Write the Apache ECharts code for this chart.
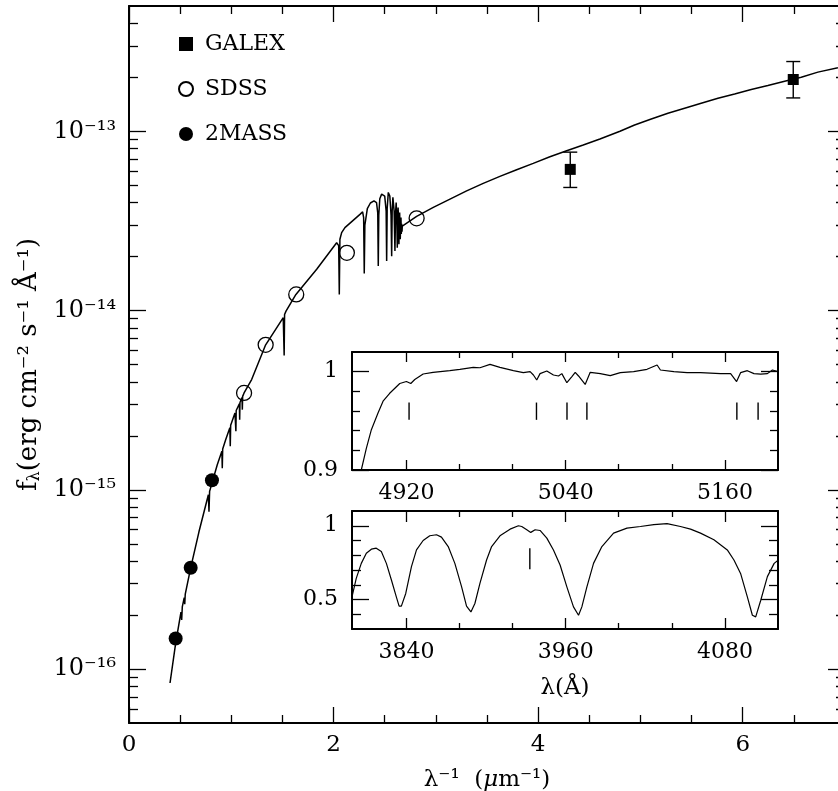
<!DOCTYPE html>
<html>
<head>
<meta charset="utf-8">
<script src="https://cdn.jsdelivr.net/npm/echarts@6/dist/echarts.min.js"></script>
<style>
  html, body { margin: 0; padding: 0; background: #fff; }
  #chart { width: 838px; height: 791px; }
</style>
</head>
<body>
<div id="chart"></div>
<script>
// model spectrum (x = 1/lambda in um^-1, f in erg cm^-2 s^-1 A^-1)
var modelX = [0.401, 0.456, 0.508, 0.515, 0.521, 0.540, 0.545, 0.550, 0.603, 0.684,
  0.776, 0.782, 0.788, 0.863, 0.908, 0.912, 0.916, 0.945, 0.986, 0.990, 0.994,
  1.036, 1.042, 1.045, 1.048, 1.079, 1.082, 1.085, 1.105, 1.108, 1.111, 1.125,
  1.199, 1.336, 1.508, 1.514, 1.517, 1.521, 1.535, 1.632, 1.835, 2.030, 2.050,
  2.056, 2.062, 2.079, 2.111, 2.258, 2.284, 2.294, 2.300, 2.306, 2.330, 2.360,
  2.395, 2.420, 2.432, 2.437, 2.442, 2.452, 2.470, 2.500, 2.514, 2.519, 2.524,
  2.535, 2.550, 2.562, 2.568, 2.573, 2.580, 2.592, 2.600, 2.606, 2.612, 2.618,
  2.623, 2.627, 2.631, 2.636, 2.639, 2.642, 2.646, 2.649, 2.652, 2.655, 2.659,
  2.662, 2.666, 2.669, 2.672, 2.688, 2.812, 2.975, 3.138, 3.301, 3.463, 3.626,
  3.790, 3.952, 4.115, 4.279, 4.441, 4.604, 4.800, 4.943, 5.106, 5.269, 5.432,
  5.594, 5.758, 5.921, 6.083, 6.246, 6.410, 6.572, 6.735, 6.931, 7.000];
var modelF = [8.36e-17, 1.39e-16, 2.08e-16, 1.88e-16, 2.22e-16, 2.50e-16, 2.30e-16, 2.62e-16, 3.67e-16, 5.83e-16,
  9.38e-16, 7.55e-16, 9.80e-16, 1.38e-15, 1.64e-15, 1.32e-15, 1.69e-15, 1.90e-15, 2.22e-15, 1.75e-15, 2.29e-15,
  2.68e-15, 2.73e-15, 2.12e-15, 2.77e-15, 3.02e-15, 2.46e-15, 3.07e-15, 3.27e-15, 2.80e-15, 3.32e-15, 3.47e-15,
  4.12e-15, 6.44e-15, 9.12e-15, 8.90e-15, 5.61e-15, 9.50e-15, 9.93e-15, 1.23e-14, 1.70e-14, 2.39e-14, 2.30e-14,
  1.23e-14, 2.50e-14, 2.72e-14, 2.90e-14, 3.44e-14, 3.55e-14, 3.30e-14, 1.61e-14, 3.00e-14, 3.70e-14, 3.98e-14,
  4.09e-14, 4.00e-14, 3.50e-14, 1.77e-14, 3.40e-14, 4.20e-14, 4.46e-14, 4.35e-14, 3.60e-14, 1.89e-14, 3.70e-14,
  4.56e-14, 4.35e-14, 3.40e-14, 2.01e-14, 3.60e-14, 4.28e-14, 3.60e-14, 2.15e-14, 3.50e-14, 4.01e-14, 3.30e-14,
  2.24e-14, 3.30e-14, 3.76e-14, 3.00e-14, 2.34e-14, 3.10e-14, 3.52e-14, 3.00e-14, 2.50e-14, 2.90e-14, 3.30e-14,
  2.67e-14, 3.05e-14, 2.75e-14, 2.96e-14, 2.99e-14, 3.35e-14, 3.76e-14, 4.18e-14, 4.65e-14, 5.12e-14, 5.60e-14,
  6.10e-14, 6.62e-14, 7.21e-14, 7.79e-14, 8.38e-14, 9.06e-14, 1.00e-13, 1.084e-13, 1.172e-13, 1.261e-13, 1.345e-13,
  1.434e-13, 1.530e-13, 1.616e-13, 1.709e-13, 1.799e-13, 1.904e-13, 2.004e-13, 2.138e-13, 2.259e-13, 2.31e-13];

// photometry
var galexX = [4.314, 6.494];
var galexF = [6.13e-14, 1.945e-13];
var galexLo = [4.86e-14, 1.535e-13];
var galexHi = [7.65e-14, 2.45e-13];
var sdssX = [1.125, 1.336, 1.635, 2.130, 2.812];
var sdssF = [3.47e-15, 6.44e-15, 1.23e-14, 2.10e-14, 3.27e-14];
var tmassX = [0.456, 0.603, 0.811];
var tmassF = [1.48e-16, 3.67e-16, 1.13e-15];

// inset 1: normalised spectrum 4880-5200 A
var topWave = [4884.5, 4886.0, 4889.8, 4893.6, 4898.6, 4902.4, 4907.4, 4915.0, 4920.0, 4923.3, 4926.3,
  4932.6, 4940.1, 4952.7, 4960.3, 4970.4, 4975.4, 4983.0, 4990.5, 5000.6, 5008.1, 5013.2, 5015.7,
  5018.2, 5020.7, 5025.8, 5030.8, 5034.6, 5037.1, 5040.9, 5044.7, 5047.2, 5049.7, 5054.7, 5058.5,
  5066.1, 5073.6, 5081.2, 5091.2, 5101.3, 5108.9, 5111.4, 5121.5, 5131.5, 5141.6, 5156.7, 5164.3,
  5168.8, 5171.8, 5176.9, 5181.9, 5187.0, 5192.0, 5195.8, 5200.0];
var topFlux = [0.885, 0.900, 0.922, 0.941, 0.958, 0.970, 0.978, 0.988, 0.990, 0.988, 0.992,
  0.9976, 0.9993, 1.001, 1.0024, 1.0044, 1.004, 1.0074, 1.0044, 1.001, 0.999, 1.000, 0.9966,
  0.9915, 0.998, 1.0007, 0.9966, 0.9956, 0.998, 0.9888, 0.995, 0.9993, 0.9956, 0.987, 0.9993,
  0.998, 0.996, 0.999, 1.000, 1.0024, 1.0068, 1.0017, 1.000, 0.999, 0.999, 0.998, 0.998,
  0.9899, 0.999, 1.001, 0.998, 0.9976, 0.998, 1.0017, 1.000];
var topMarks = [4922, 5018, 5041, 5056, 5169, 5185];
var topMarkLo = 0.951, topMarkHi = 0.9686;

// inset 2: normalised spectrum 3800-4120 A
var botWave = [3799.0, 3802.2, 3806.0, 3809.8, 3813.6, 3817.3, 3821.1, 3824.9, 3828.7, 3832.4, 3834.5,
  3836.2, 3839.5, 3843.8, 3847.6, 3852.6, 3857.6, 3862.7, 3866.4, 3871.5, 3876.5, 3881.6, 3885.3,
  3888.6, 3891.6, 3895.4, 3900.4, 3904.2, 3910.5, 3918.1, 3924.4, 3926.9, 3930.7, 3933.7, 3937.0,
  3940.7, 3945.8, 3950.8, 3955.8, 3960.9, 3965.9, 3969.7, 3972.2, 3976.0, 3981.0, 3987.3, 3996.1,
  4006.2, 4016.3, 4026.4, 4036.4, 4046.5, 4054.1, 4061.6, 4071.7, 4081.8, 4086.8, 4091.8, 4096.9,
  4100.7, 4103.2, 4107.0, 4112.0, 4117.1, 4120.3];
var botFlux = [0.518, 0.643, 0.745, 0.814, 0.841, 0.848, 0.825, 0.745, 0.632, 0.518, 0.455,
  0.455, 0.541, 0.723, 0.836, 0.900, 0.932, 0.939, 0.923, 0.859, 0.745, 0.586, 0.455,
  0.416, 0.473, 0.609, 0.768, 0.859, 0.932, 0.977, 1.000, 0.995, 0.973, 0.955, 0.973,
  0.968, 0.916, 0.836, 0.734, 0.586, 0.450, 0.393, 0.450, 0.586, 0.745, 0.859, 0.950,
  0.984, 0.995, 1.007, 1.014, 0.995, 0.977, 0.950, 0.905, 0.836, 0.768, 0.677, 0.518,
  0.393, 0.382, 0.495, 0.655, 0.745, 0.768];
var botMarks = [3933];
var botMarkLo = 0.705, botMarkHi = 0.848;

// ticks
var mainXMajor = [0, 2, 4, 6];
var mainXMinor = [0.5, 1, 1.5, 2.5, 3, 3.5, 4.5, 5, 5.5, 6.5];
var mainYMajor = [1e-16, 1e-15, 1e-14, 1e-13];
var mainYMinor = [6e-17, 7e-17, 8e-17, 9e-17, 2e-16, 3e-16, 4e-16, 5e-16, 6e-16, 7e-16, 8e-16, 9e-16,
  2e-15, 3e-15, 4e-15, 5e-15, 6e-15, 7e-15, 8e-15, 9e-15, 2e-14, 3e-14, 4e-14, 5e-14, 6e-14, 7e-14,
  8e-14, 9e-14, 2e-13, 3e-13, 4e-13];
var topXMajor = [4920, 5040, 5160];
var topXMinor = [4960, 5000, 5080, 5120];
var topYMajor = [0.9, 1];
var topYMinor = [0.92, 0.94, 0.96, 0.98];
var botXMajor = [3840, 3960, 4080];
var botXMinor = [3880, 3920, 4000, 4040];
var botYMajor = [0.5, 1];
var botYMinor = [0.4, 0.6, 0.7, 0.8, 0.9];

var FONT = 'DejaVu Serif';
var SUP = {'-': '\u207B', '0': '\u2070', '1': '\u00B9', '2': '\u00B2', '3': '\u00B3', '4': '\u2074',
  '5': '\u2075', '6': '\u2076', '7': '\u2077', '8': '\u2078', '9': '\u2079'};
function sup(n) {
  return String(n).split('').map(function (c) { return SUP[c]; }).join('');
}
function pairs(xs, ys) {
  return xs.map(function (x, i) { return [x, ys[i]]; });
}

var xAxes = [], yAxes = [];
// one box side = main axis (line, long ticks, labels) + overlay axis (short ticks)
function addAxes(list, dim, grid, o) {
  var first = list.length;
  (dim === 'x' ? ['bottom', 'top'] : ['left', 'right']).forEach(function (pos, side) {
    [[o.major, o.majorLen], [o.minor, o.minorLen]].forEach(function (t, k) {
      var main = side === 0 && k === 0;
      var ax = {
        type: o.type || 'value', gridIndex: grid, position: pos, min: o.min, max: o.max,
        axisLine: {show: k === 0, onZero: false, lineStyle: {color: '#000', width: 2}},
        splitLine: {show: false},
        axisTick: {show: true, inside: true, length: t[1], customValues: t[0],
          lineStyle: {color: '#000', width: 1.3}},
        axisLabel: main ? {show: true, customValues: o.labels, formatter: o.fmt, margin: o.margin,
          color: '#000', fontFamily: FONT, fontSize: o.fontSize} : {show: false}
      };
      if (main && o.name) {
        ax.name = o.name;
        ax.nameLocation = 'middle';
        ax.nameGap = o.nameGap;
        ax.nameTextStyle = o.nameTextStyle;
      }
      list.push(ax);
    });
  });
  return first;
}

var plain = function (v) { return String(v); };
var mx = addAxes(xAxes, 'x', 0, {min: 0, max: 7, major: mainXMajor, minor: mainXMinor, majorLen: 16, minorLen: 8,
  labels: mainXMajor, fmt: plain, margin: 11, fontSize: 23,
  name: '{a|\u03BB' + sup(-1) + '  (}{i|\u03BC}{a|m' + sup(-1) + ')}', nameGap: 46,
  nameTextStyle: {rich: {a: {fontFamily: FONT, fontSize: 23, color: '#000'},
    i: {fontFamily: FONT, fontSize: 23, fontStyle: 'italic', color: '#000'}}}});
var my = addAxes(yAxes, 'y', 0, {type: 'log', min: 5e-17, max: 5e-13, major: mainYMajor, minor: mainYMinor,
  majorLen: 17, minorLen: 9, labels: mainYMajor, margin: 13, fontSize: 24,
  fmt: function (v) { return '10' + sup(Math.round(Math.log10(v))); },
  name: '{a|f}{b|\u03BB}{a|(erg cm' + sup(-2) + ' s' + sup(-1) + ' \u00C5' + sup(-1) + ')}', nameGap: 62,
  nameTextStyle: {rich: {a: {fontFamily: FONT, fontSize: 26, color: '#000'},
    b: {fontFamily: FONT, fontSize: 16, color: '#000', verticalAlign: 'bottom', padding: [6, 0, 0, 0]}}}});
var tx = addAxes(xAxes, 'x', 1, {min: 4879, max: 5200, major: topXMajor, minor: topXMinor, majorLen: 10, minorLen: 6,
  labels: topXMajor, fmt: plain, margin: 12, fontSize: 22});
var ty = addAxes(yAxes, 'y', 1, {min: 0.9, max: 1.02, major: topYMajor, minor: topYMinor, majorLen: 17, minorLen: 8,
  labels: topYMajor, fmt: plain, margin: 14, fontSize: 22});
var bx = addAxes(xAxes, 'x', 2, {min: 3799, max: 4120, major: botXMajor, minor: botXMinor, majorLen: 11, minorLen: 6,
  labels: botXMajor, fmt: plain, margin: 12, fontSize: 22,
  name: '\u03BB(\u00C5)', nameGap: 48, nameTextStyle: {fontFamily: FONT, fontSize: 23, color: '#000'}});
var by = addAxes(yAxes, 'y', 2, {min: 0.3, max: 1.1, major: botYMajor, minor: botYMinor, majorLen: 17, minorLen: 9,
  labels: botYMajor, fmt: plain, margin: 14, fontSize: 22});

// vertical segment (error bar / line marker) from value(1) to value(2)
function segment(cap) {
  return function (params, api) {
    var a = api.coord([api.value(0), api.value(1)]);
    var b = api.coord([api.value(0), api.value(2)]);
    var st = {stroke: '#000', lineWidth: 1.4};
    var kids = [{type: 'line', shape: {x1: a[0], y1: a[1], x2: b[0], y2: b[1]}, style: st}];
    if (cap) {
      kids.push({type: 'line', shape: {x1: a[0] - cap, y1: a[1], x2: a[0] + cap, y2: a[1]}, style: st});
      kids.push({type: 'line', shape: {x1: b[0] - cap, y1: b[1], x2: b[0] + cap, y2: b[1]}, style: st});
    }
    return {type: 'group', children: kids};
  };
}

var chart = echarts.init(document.getElementById('chart'), null, {renderer: 'canvas'});
chart.setOption({
  animation: false,
  backgroundColor: '#fff',
  grid: [
    {left: 129, top: 6, width: 716, height: 717, outerBoundsMode: 'none'},
    {left: 352, top: 352, width: 426, height: 118, outerBoundsMode: 'none'},
    {left: 352, top: 511, width: 426, height: 118, outerBoundsMode: 'none'}
  ],
  xAxis: xAxes,
  yAxis: yAxes,
  legend: {
    data: ['GALEX', 'SDSS', '2MASS'], orient: 'vertical', left: 173, top: 28,
    itemWidth: 14, itemHeight: 14, itemGap: 23, selectedMode: false,
    textStyle: {fontFamily: FONT, fontSize: 22, color: '#000', padding: [0, 0, 0, 7]}
  },
  series: [
    {type: 'line', name: 'model', xAxisIndex: mx, yAxisIndex: my, data: pairs(modelX, modelF),
      showSymbol: false, lineStyle: {color: '#000', width: 1.5}, z: 2},
    {type: 'custom', name: 'galexErr', xAxisIndex: mx, yAxisIndex: my,
      data: galexX.map(function (x, i) { return [x, galexLo[i], galexHi[i]]; }),
      renderItem: segment(7), encode: {x: 0, y: [1, 2]}, z: 3},
    {type: 'scatter', name: 'GALEX', xAxisIndex: mx, yAxisIndex: my, data: pairs(galexX, galexF),
      symbol: 'rect', symbolSize: 11, itemStyle: {color: '#000', opacity: 1}, z: 4},
    {type: 'scatter', name: 'SDSS', xAxisIndex: mx, yAxisIndex: my, data: pairs(sdssX, sdssF),
      symbol: 'circle', symbolSize: 15,
      itemStyle: {color: 'rgba(0,0,0,0)', borderColor: '#000', borderWidth: 1.3, opacity: 1}, z: 4},
    {type: 'scatter', name: '2MASS', xAxisIndex: mx, yAxisIndex: my, data: pairs(tmassX, tmassF),
      symbol: 'circle', symbolSize: 14, itemStyle: {color: '#000', opacity: 1}, z: 4},
    {type: 'line', name: 'spec1', xAxisIndex: tx, yAxisIndex: ty, data: pairs(topWave, topFlux),
      showSymbol: false, lineStyle: {color: '#000', width: 1.2}},
    {type: 'custom', name: 'marks1', xAxisIndex: tx, yAxisIndex: ty,
      data: topMarks.map(function (w) { return [w, topMarkLo, topMarkHi]; }),
      renderItem: segment(0), encode: {x: 0, y: [1, 2]}},
    {type: 'line', name: 'spec2', xAxisIndex: bx, yAxisIndex: by, data: pairs(botWave, botFlux),
      showSymbol: false, lineStyle: {color: '#000', width: 1.2}},
    {type: 'custom', name: 'marks2', xAxisIndex: bx, yAxisIndex: by,
      data: botMarks.map(function (w) { return [w, botMarkLo, botMarkHi]; }),
      renderItem: segment(0), encode: {x: 0, y: [1, 2]}}
  ]
});
</script>
</body>
</html>
